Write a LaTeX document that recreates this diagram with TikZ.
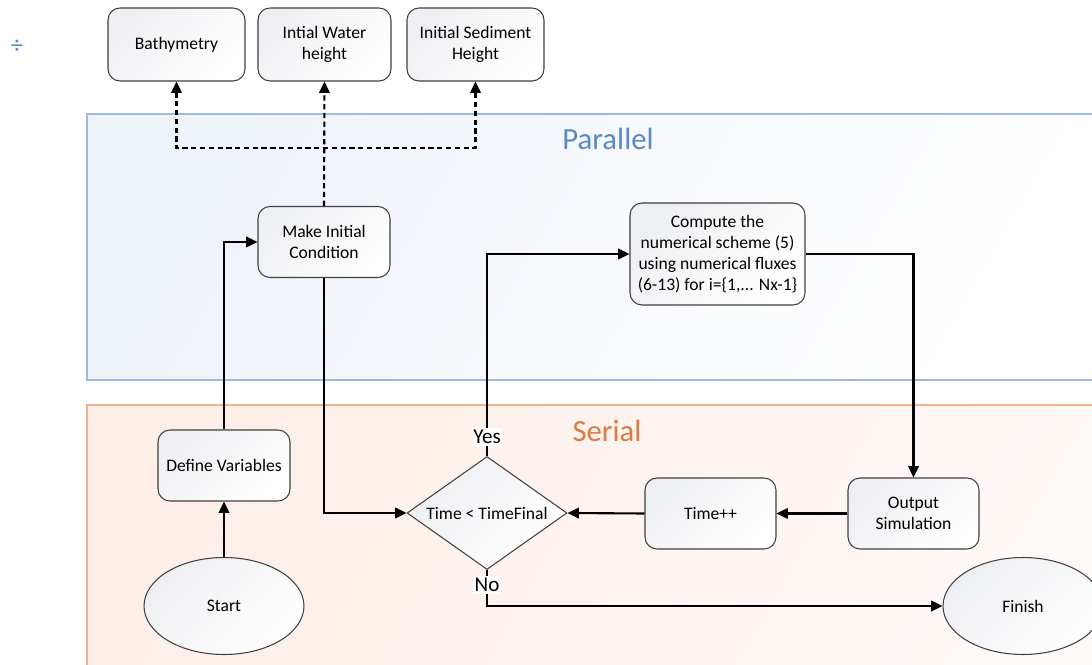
\documentclass[tikz,border=0pt]{standalone}
\usepackage{fontspec}
\setmainfont{Carlito}
\usepackage{tikz}
\usetikzlibrary{arrows.meta,shapes.geometric}
\definecolor{edge}{HTML}{404040}
\definecolor{shadegrey}{HTML}{EEEFF2}
\definecolor{paraline}{HTML}{9CBBE3}
\definecolor{parafill}{HTML}{EEF2F9}
\definecolor{paratext}{HTML}{5A8AC6}
\definecolor{serline}{HTML}{F2B08E}
\definecolor{serfill}{HTML}{FDEEE8}
\definecolor{sertext}{HTML}{DD7A42}
\tikzset{
  box/.style={draw=edge, line width=0.6pt, rounded corners=0.24cm, align=center,
    font=\fontsize{10}{12}\selectfont, top color=shadegrey, bottom color=white,
    shading angle=45, minimum width=2.64cm, minimum height=1.42cm, inner sep=2pt},
  topbox/.style={box, minimum width=2.74cm, minimum height=1.46cm},
  oval/.style={ellipse, draw=edge, line width=0.6pt, font=\fontsize{10}{12}\selectfont,
    top color=shadegrey, bottom color=white, shading angle=45,
    minimum width=3.2cm, minimum height=1.94cm},
  decision/.style={diamond, aspect=1.42, draw=edge, line width=0.6pt,
    font=\fontsize{10}{12}\selectfont, top color=shadegrey, bottom color=white,
    shading angle=45, minimum width=3.2cm, minimum height=2.26cm, inner sep=0pt},
  answer/.style={fill=white, font=\fontsize{12}{14}\selectfont, inner sep=1pt},
  conn/.style={draw=black, line width=1.2pt, -{Triangle[length=6.5pt,width=6pt]}},
  dconn/.style={draw=black, line width=1.2pt, dash pattern=on 3pt off 2pt},
  region/.style={font=\fontsize{17.5}{20}\selectfont}
}
\begin{document}
\begin{tikzpicture}[x=0.02cm, y=-0.02cm]
  \clip (0,0) rectangle (1092,665);
  \fill[white] (0,0) rectangle (1092,665);

  % regions
  \draw[paraline, line width=0.6pt, top color=parafill, bottom color=white, shading angle=60]
    (87,114) rectangle (1110,380);
  \draw[serline, line width=0.6pt, top color=serfill, bottom color=white!60!serfill, shading angle=60]
    (87,405) rectangle (1110,690);
  \node[region, text=paratext] (par) at (608,139) {Parallel};
  \node[region, text=sertext] (ser) at (607,431) {Serial};
  \node[text=paratext, font=\fontsize{14}{14}\selectfont] (mark) at (17,47) {÷};

  % nodes
  \node[topbox] (bath) at (176.5,44.5) {Bathymetry};
  \node[topbox, minimum width=2.66cm] (iwh) at (324.5,44.5) {Intial Water\\height};
  \node[topbox] (ish) at (475.5,44.5) {Initial Sediment\\Height};
  \node[box] (mic) at (324,242) {Make Initial\\Condition};
  \node[box, minimum width=3.5cm, minimum height=2.04cm] (comp) at (717.5,254)
    {Compute the\\numerical scheme (5)\\using numerical fluxes\\(6-13) for i=\{1,... Nx-1\}};
  \node[box] (dv) at (224,465.5) {Define Variables};
  \node[oval] (start) at (224,606) {Start};
  \node[decision] (cond) at (487,513) {Time < TimeFinal};
  \node[box, minimum width=2.62cm] (tinc) at (710.5,513.5) {Time++};
  \node[box, minimum width=2.62cm] (out) at (913.5,513.5) {Output\\Simulation};
  \node[oval] (fin) at (1023,606) {Finish};
  \node[answer] (yes) at (487,437) {Yes};
  \node[answer] (no) at (487,585) {No};
  \coordinate (jn) at (324,148);

  % connectors
  \draw[dconn, -{Triangle[length=6.5pt,width=6pt]}] (mic.north) -- (iwh.south);
  \draw[dconn, {Triangle[length=6.5pt,width=6pt]}-{Triangle[length=6.5pt,width=6pt]}]
    (bath.south) |- (jn) -| (ish.south);
  \draw[conn] (start.north) -- (dv.south);
  \draw[conn] (dv.north) |- (mic.west);
  \draw[conn] (mic.south) |- (cond.west);
  \draw[line width=1.2pt] (cond.north) -- (yes.south);
  \draw[conn] (yes.north) |- (comp.west);
  \draw[conn] (comp.east) -| (out.north);
  \draw[conn] (out.west) -- (tinc.east);
  \draw[conn] (tinc.west) -- (cond.east);
  \draw[line width=1.2pt] (cond.south) -- (no.north);
  \draw[conn] (no.south) |- (fin.west);
\end{tikzpicture}
\end{document}
